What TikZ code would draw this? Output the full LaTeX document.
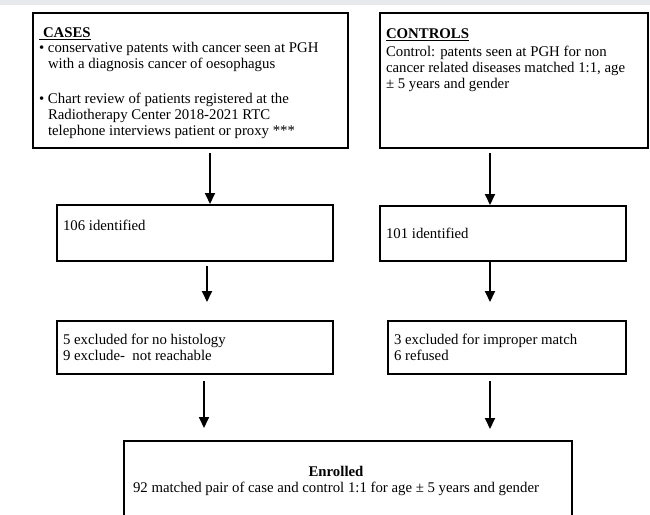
\documentclass[tikz,border=0pt]{standalone}
\usepackage{fontspec}
\setmainfont{Liberation Serif}
\usetikzlibrary{arrows.meta}
\definecolor{topband}{RGB}{232,233,236}

\begin{document}
\begin{tikzpicture}[x=1pt,y=-1pt, >=Triangle,
    box/.style={rectangle,draw=black,line width=1.8pt,anchor=north west,inner sep=0pt,outer sep=0pt},
    txt/.style={inner sep=0pt,outer sep=0pt,align=left,font=\fontsize{14.8}{16.2}\selectfont},
    line/.style={draw=black,line width=1.8pt,-{Triangle[length=11pt,width=10pt]}}]
    \useasboundingbox (0,0) rectangle (650,514);
    \clip (0,0) rectangle (650,514);
    \fill[topband] (0,0) rectangle (650,5);
    \node[box,minimum width=315pt,minimum height=135pt] (cases) at (33,13) {};
    \node[box,minimum width=268pt,minimum height=135pt] (controls) at (380,13) {};
    \node[box,minimum width=276pt,minimum height=56pt] (id106) at (57,205) {};
    \node[box,minimum width=246pt,minimum height=55pt] (id101) at (380,206) {};
    \node[box,minimum width=276pt,minimum height=53pt] (exclcases) at (57,321) {};
    \node[box,minimum width=238pt,minimum height=53pt] (exclcontrols) at (388,321) {};
    \node[box,minimum width=448pt,minimum height=100pt] (enrolled) at (124,441) {};
    \node[txt,anchor=north west] (casestxt) at (39,28) {\underline{\hspace{4pt}\textbf{CASES}}\\[-2pt]
      \makebox[9pt][l]{\textbullet}conservative patents with cancer seen at PGH\\
      \hspace*{9pt}with a diagnosis cancer of oesophagus\\[19pt]
      \makebox[9pt][l]{\textbullet}Chart review of patients registered at the\\
      \hspace*{9pt}Radiotherapy Center 2018-2021 RTC\\
      \hspace*{9pt}telephone interviews patient or proxy ***};
    \node[txt,anchor=north west] (controlstxt) at (386,29) {\underline{\textbf{CONTROLS}}\\[1pt]
      Control: patents seen at PGH for non\\
      cancer related diseases matched 1:1, age\\
      ± 5 years and gender};
    \node[txt,anchor=base west] (id106txt) at (63,230) {106 identified};
    \node[txt,anchor=base west] (id101txt) at (386,238) {101 identified};
    \node[txt,anchor=north west] (exclcasestxt) at (63,334) {5 excluded for no histology\\9 exclude-\ \ not reachable};
    \node[txt,anchor=north west] (exclcontrolstxt) at (394,334) {3 excluded for improper match\\6 refused};
    \node[txt,align=center,anchor=north] (enrolledtxt) at (336,466) {\textbf{Enrolled}\\92 matched pair of case and control 1:1 for age ± 5 years and gender};
    \path[line]([xshift=19.5pt,yshift=-5pt]cases.south)--([xshift=15pt,yshift=1pt]id106.north);
    \path[line]([xshift=-24pt,yshift=-5pt]controls.south)--([xshift=-13pt,yshift=1pt]id101.north);
    \path[line]([xshift=12pt,yshift=-5pt]id106.south)--([xshift=12pt,yshift=19pt]exclcases.north);
    \path[line]([xshift=-13pt]id101.south)--([xshift=-17pt,yshift=19pt]exclcontrols.north);
    \path[line]([xshift=9pt,yshift=-7pt]exclcases.south)--([xshift=-144pt,yshift=13pt]enrolled.north);
    \path[line]([xshift=-17pt,yshift=-7pt]exclcontrols.south)--([xshift=142pt,yshift=12pt]enrolled.north);
\end{tikzpicture}
\end{document}
